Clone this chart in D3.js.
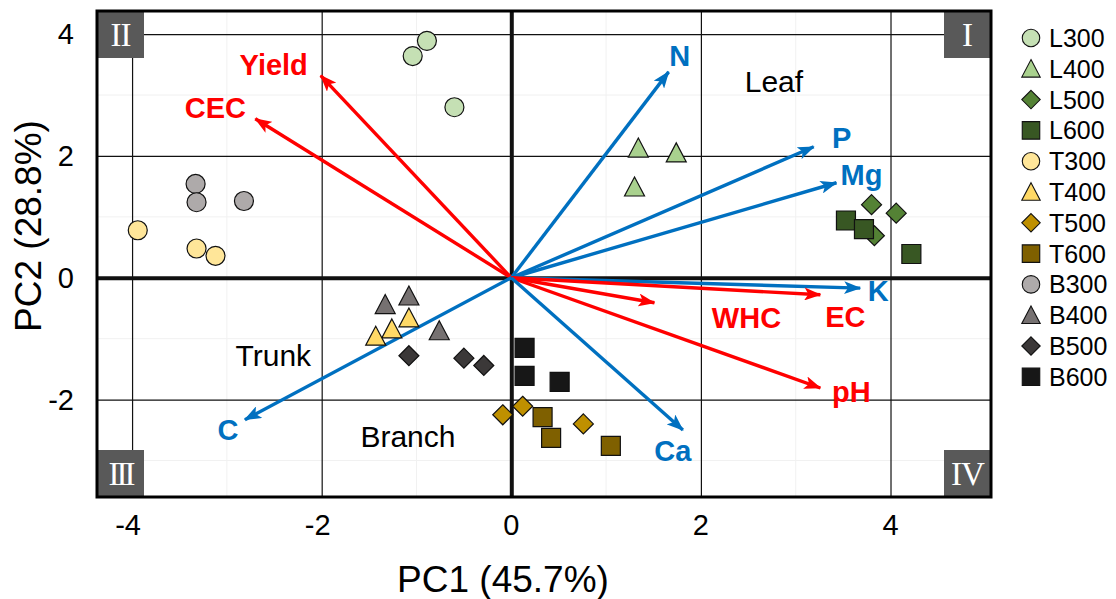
<!DOCTYPE html>
<html>
<head>
<meta charset="utf-8">
<script src="https://cdn.jsdelivr.net/npm/d3@7"></script>
<style>
  html, body { margin: 0; padding: 0; background: #fff; }
  text { font-family: Arial, "Liberation Sans", sans-serif; }
</style>
</head>
<body>
<svg id="PCA_BIPLOT" width="1116" height="599"></svg>
<script>
// sample groups (L = leaf, T = trunk, B = branch; number = temperature)
const groupNames = ["L300", "L400", "L500", "L600", "T300", "T400", "T500", "T600", "B300", "B400", "B500", "B600"];
const groupPC1 = [
  [-0.89, -1.04, -0.60],
  [1.34, 1.74, 1.30],
  [3.80, 4.06, 3.83],
  [3.53, 3.72, 4.22],
  [-3.94, -3.32, -3.12],
  [-1.08, -1.26, -1.43],
  [-0.09, 0.12, 0.76],
  [0.33, 0.42, 1.05],
  [-3.33, -3.32, -2.82],
  [-1.33, -1.08, -0.76],
  [-1.08, -0.50, -0.29],
  [0.14, 0.14, 0.51],
];
const groupPC2 = [
  [3.89, 3.64, 2.80],
  [2.13, 2.05, 1.49],
  [1.20, 1.06, 0.69],
  [0.94, 0.80, 0.39],
  [0.78, 0.48, 0.36],
  [-0.66, -0.84, -0.96],
  [-2.25, -2.11, -2.40],
  [-2.29, -2.63, -2.76],
  [1.54, 1.24, 1.26],
  [-0.44, -0.30, -0.87],
  [-1.28, -1.32, -1.44],
  [-1.15, -1.61, -1.71],
];

// loading vectors
const loadingNames = ["Yield", "CEC", "N", "P", "Mg", "K", "EC", "WHC", "pH", "Ca", "C"];
const loadingPC1 = [-2.01, -2.70, 1.66, 3.19, 3.43, 3.68, 3.26, 1.51, 3.26, 1.81, -2.81];
const loadingPC2 = [3.32, 2.61, 3.38, 2.15, 1.56, -0.17, -0.28, -0.41, -1.81, -2.50, -2.33];
const loadingKind = ["soil", "soil", "plant", "plant", "plant", "plant", "soil", "soil", "soil", "plant", "plant"];

const regionNames = ["Leaf", "Trunk", "Branch"];
const regionPC1 = [2.77, -2.51, -1.09];
const regionPC2 = [3.22, -1.27, -2.60];

const xTicks = [-4, -2, 0, 2, 4];
const yTicks = [-2, 0, 2, 4];
const quadrantNames = ["I", "II", "III", "IV"];

// ---- styles ----
const groupColor = ["#c5e0b4", "#a9d18e", "#548235", "#385723",
                    "#ffe699", "#ffd966", "#bf9000", "#7f6000",
                    "#aeaaaa", "#767171", "#3b3838", "#171717"];
const groupShape = ["circle", "triangle", "diamond", "square"];
const kindColor = { soil: "#ff0000", plant: "#0070c0" };
// label offset from arrow tip, px
const labelOffset = [[-47, -11], [-40, -11], [11, -16], [28, -9], [25, -8], [18, 2],
                     [25, 22], [92, 15], [31, 4], [-10, 20], [-17, 10]];

const width = 1116;
const height = 599;
const plot = { left: 97, right: 991, top: 11, bottom: 497 };

const svg = d3.select("#PCA_BIPLOT");
svg.append("rect").attr("width", width).attr("height", height).attr("fill", "#fff");

const x = d3.scaleLinear().domain([-4.37, 5.06]).range([plot.left, plot.right]);
const y = d3.scaleLinear().domain([-3.6, 4.38]).range([plot.bottom, plot.top]);

// faint minor grid
const g = svg.append("g");
g.selectAll("line.minor-x")
  .data([-3, -1, 1, 3])
  .join("line")
  .attr("x1", (d) => x(d)).attr("x2", (d) => x(d))
  .attr("y1", plot.top).attr("y2", plot.bottom)
  .attr("stroke", "#f1f1f1").attr("stroke-width", 1);
g.selectAll("line.minor-y")
  .data([-3, -1, 1, 3])
  .join("line")
  .attr("y1", (d) => y(d)).attr("y2", (d) => y(d))
  .attr("x1", plot.left).attr("x2", plot.right)
  .attr("stroke", "#f1f1f1").attr("stroke-width", 1);

// major grid via axes
const xAxis = d3.axisBottom(x).tickValues(xTicks).tickSize(plot.bottom - plot.top).tickFormat("");
const yAxis = d3.axisLeft(y).tickValues(yTicks).tickSize(-(plot.right - plot.left)).tickFormat("");
g.append("g").attr("transform", `translate(0,${plot.top})`).call(xAxis)
  .call((s) => s.select(".domain").remove())
  .call((s) => s.selectAll("line").attr("stroke", "#111").attr("stroke-width", (d) => (d === 0 ? 4 : 1.2)));
g.append("g").attr("transform", `translate(${plot.left},0)`).call(yAxis)
  .call((s) => s.select(".domain").remove())
  .call((s) => s.selectAll("line").attr("stroke", "#111").attr("stroke-width", (d) => (d === 0 ? 4 : 1.2)));

// tick labels
svg.append("g").selectAll("text")
  .data(xTicks).join("text")
  .attr("x", (d) => x(d) + (d < 0 ? -4 : 0)).attr("y", 535)
  .attr("text-anchor", "middle").attr("font-size", 29).attr("fill", "#000")
  .text((d) => d);
svg.append("g").selectAll("text")
  .data(yTicks).join("text")
  .attr("x", 74).attr("y", (d) => y(d) + 10)
  .attr("text-anchor", "end").attr("font-size", 29).attr("fill", "#000")
  .text((d) => d);

// axis titles
svg.append("text").attr("x", 503).attr("y", 592)
  .attr("text-anchor", "middle").attr("font-size", 37).text("PC1 (45.7%)");
svg.append("text").attr("transform", "translate(41,226) rotate(-90)")
  .attr("text-anchor", "middle").attr("font-size", 37).text("PC2 (28.8%)");

// quadrant boxes
const box = 47;
const quadPos = [[plot.right - box, plot.top], [plot.left, plot.top], [plot.left, plot.bottom - box], [plot.right - box, plot.bottom - box]];
const quad = svg.append("g").selectAll("g").data(quadrantNames).join("g")
  .attr("transform", (d, i) => `translate(${quadPos[i][0]},${quadPos[i][1]})`);
quad.append("rect").attr("width", box).attr("height", box).attr("fill", "#595959");
quad.append("text")
  .attr("x", box / 2).attr("y", box / 2 + 11)
  .attr("text-anchor", "middle").attr("fill", "#fff")
  .attr("font-size", 33)
  .attr("letter-spacing", (d) => (d.length > 2 ? -3 : d.length > 1 ? -1 : 0))
  .style("font-family", "'Liberation Serif', 'Times New Roman', serif")
  .text((d) => d);

// arrowheads
const defs = svg.append("defs");
Object.entries(kindColor).forEach(([k, c]) => {
  defs.append("marker")
    .attr("id", "arrow-" + k)
    .attr("viewBox", "0 0 17 13")
    .attr("refX", 16).attr("refY", 6.5)
    .attr("markerWidth", 17).attr("markerHeight", 13)
    .attr("markerUnits", "userSpaceOnUse")
    .attr("orient", "auto")
    .append("path").attr("d", "M0,0 L17,6.5 L0,13 L4,6.5 Z").attr("fill", c);
});

const loadings = loadingNames.map((name, i) => ({
  name, pc1: loadingPC1[i], pc2: loadingPC2[i], kind: loadingKind[i], off: labelOffset[i],
}));

svg.append("g").selectAll("line")
  .data(loadings).join("line")
  .attr("x1", x(0)).attr("y1", y(0))
  .attr("x2", (d) => x(d.pc1)).attr("y2", (d) => y(d.pc2))
  .attr("stroke", (d) => kindColor[d.kind])
  .attr("stroke-width", 3.4)
  .attr("marker-end", (d) => `url(#arrow-${d.kind})`);

svg.append("g").selectAll("text")
  .data(loadings).join("text")
  .attr("x", (d) => x(d.pc1) + d.off[0])
  .attr("y", (d) => y(d.pc2) + d.off[1] + 10.5)
  .attr("text-anchor", "middle")
  .attr("font-size", 29).attr("font-weight", "bold")
  .attr("fill", (d) => kindColor[d.kind])
  .text((d) => d.name);

// region labels
svg.append("g").selectAll("text")
  .data(regionNames).join("text")
  .attr("x", (d, i) => x(regionPC1[i])).attr("y", (d, i) => y(regionPC2[i]) + 10.5)
  .attr("text-anchor", "middle").attr("font-size", 30).attr("fill", "#000")
  .text((d) => d);

// markers
const symbolPath = (shape) => {
  switch (shape) {
    case "circle":
      return "M9.5,0 A9.5,9.5 0 1,1 -9.5,0 A9.5,9.5 0 1,1 9.5,0 Z";
    case "triangle":
      return "M0,-10 L10,9 L-10,9 Z";
    case "diamond":
      return "M0,-10 L10,0 L0,10 L-10,0 Z";
    default:
      return "M-9.5,-9.5 L9.5,-9.5 L9.5,9.5 L-9.5,9.5 Z";
  }
};

const points = [];
groupNames.forEach((name, gi) => {
  groupPC1[gi].forEach((v, j) => {
    points.push({ group: gi, pc1: v, pc2: groupPC2[gi][j] });
  });
});

svg.append("g").selectAll("path")
  .data(points).join("path")
  .attr("transform", (d) => `translate(${x(d.pc1)},${y(d.pc2)})`)
  .attr("d", (d) => symbolPath(groupShape[d.group % 4]))
  .attr("fill", (d) => groupColor[d.group])
  .attr("stroke", "#111").attr("stroke-width", 1.2);

// frame
svg.append("rect")
  .attr("x", plot.left).attr("y", plot.top)
  .attr("width", plot.right - plot.left).attr("height", plot.bottom - plot.top)
  .attr("fill", "none").attr("stroke", "#000").attr("stroke-width", 3);

// legend
const legend = svg.append("g").selectAll("g")
  .data(groupNames).join("g")
  .attr("transform", (d, i) => `translate(1031,${38 + i * 30.8})`);
legend.append("path")
  .attr("d", (d, i) => symbolPath(groupShape[i % 4]))
  .attr("transform", "scale(0.92)")
  .attr("fill", (d, i) => groupColor[i])
  .attr("stroke", "#111").attr("stroke-width", 1.2);
legend.append("text")
  .attr("x", 18).attr("y", 9)
  .attr("font-size", 25).attr("fill", "#000")
  .text((d) => d);
</script>
</body>
</html>
